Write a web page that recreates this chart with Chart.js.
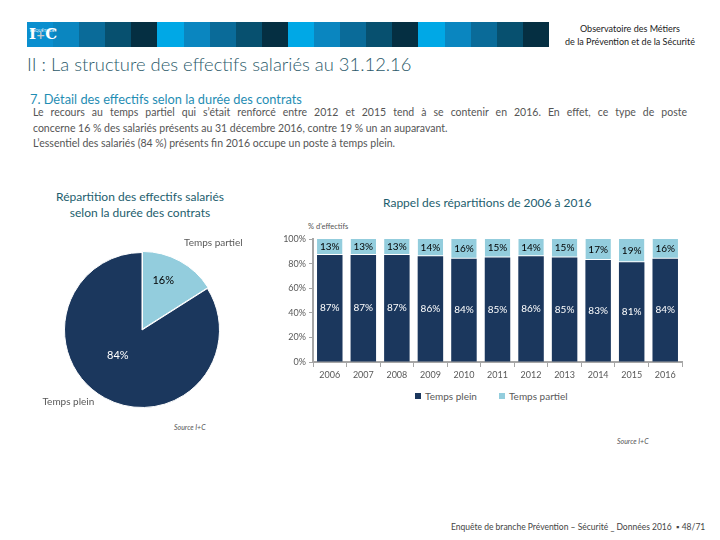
<!DOCTYPE html>
<html>
<head>
<meta charset="utf-8">
<script src="https://cdn.jsdelivr.net/npm/chart.js@4/dist/chart.umd.min.js"></script>
<style>
  html,body{margin:0;padding:0;background:#fff;}
  body{width:720px;height:540px;position:relative;overflow:hidden;font-family:Lato,"Open Sans",sans-serif;}
  .abs{position:absolute;white-space:nowrap;}
  #stripes{position:absolute;left:27px;top:22px;width:522px;height:25px;display:flex;}
  #stripes div{flex:1;height:25px;}
  #logo{position:absolute;left:29px;top:24px;color:#fff;font-family:"DejaVu Serif",serif;font-weight:bold;font-size:15px;line-height:20px;}
  #logo small{position:absolute;left:1px;top:-3px;font-size:4px;font-family:Lato,sans-serif;font-weight:normal;}
  #obs{position:absolute;left:540px;top:22px;width:180px;text-align:center;font-size:9px;line-height:13px;color:#222;}
  #title{left:27px;top:53px;font-size:18.4px;color:#2b5a6a;font-weight:300;}
  #sub{left:30px;top:91px;font-size:12.8px;color:#1f8db3;}
  #para{position:absolute;left:33px;top:105px;width:654px;font-size:10.5px;color:#555;line-height:15.5px;}
  #para .j{text-align:justify;text-align-last:justify;}
  #pieTitle{position:absolute;left:40px;top:189px;width:200px;text-align:center;font-size:12px;line-height:16px;color:#1d5e6e;}
  #barTitle{left:383px;top:195px;font-size:12px;color:#1d5e6e;}
  #yTitle{left:308px;top:222px;font-size:7.5px;color:#555;}
  #pieWrap{position:absolute;left:30px;top:225px;width:240px;height:190px;}
  #barWrap{position:absolute;left:270px;top:220px;width:440px;height:170px;}
  .src{font-size:7px;color:#555;font-style:italic;}
  #foot{left:451px;top:522px;font-size:8.5px;color:#444;}
  #legend{position:absolute;left:415px;top:390px;font-size:10px;color:#595959;display:flex;align-items:center;}
  #legend span.box{display:inline-block;width:6px;height:6px;margin-right:4px;}
</style>
</head>
<body>
<div id="stripes"></div>
<div id="logo"><small>ENQUÊTE DE BRANCHE</small>I<span style="color:#c8c8c8;font-size:11px">+</span>C</div>
<div id="obs">Observatoire des Métiers<br>de la Prévention et de la Sécurité</div>
<div id="title" class="abs">II : La structure des effectifs salariés au 31.12.16</div>
<div id="sub" class="abs">7. Détail des effectifs selon la durée des contrats</div>
<div id="para">
  <div class="j">Le recours au temps partiel qui s’était renforcé entre 2012 et 2015 tend à se contenir en 2016. En effet, ce type de poste</div>
  <div>concerne 16 % des salariés présents au 31 décembre 2016, contre 19 % un an auparavant.</div>
  <div>L’essentiel des salariés (84 %) présents fin 2016 occupe un poste à temps plein.</div>
</div>
<div id="pieTitle">Répartition des effectifs salariés<br>selon la durée des contrats</div>
<div id="barTitle" class="abs">Rappel des répartitions de 2006 à 2016</div>
<div id="yTitle" class="abs">% d'effectifs</div>
<div id="pieWrap"><canvas id="pie" width="240" height="190"></canvas></div>
<div id="barWrap"><canvas id="bar" width="440" height="170"></canvas></div>
<div id="legend"></div>
<div class="abs src" style="left:174px;top:423px;">Source I+C</div>
<div class="abs src" style="left:617px;top:437px;">Source I+C</div>
<div id="foot" class="abs">Enquête de branche Prévention – Sécurité _ Données 2016 &nbsp;▪ 48/71</div>

<script>
// ---- data ----
const pieLabels = ["Temps partiel", "Temps plein"];
const pieValues = [16, 84];

const years = ["2006","2007","2008","2009","2010","2011","2012","2013","2014","2015","2016"];
const tempsPlein   = [87, 87, 87, 86, 84, 85, 86, 85, 83, 81, 84];
const tempsPartiel = [13, 13, 13, 14, 16, 15, 14, 15, 17, 19, 16];
const yTicks = [0, 20, 40, 60, 80, 100];
const seriesNames = ["Temps plein", "Temps partiel"];

const stripeColors = ["#0a8fcf","#0a86c0","#0a6b99","#07506f","#052f42"];

// header stripes
const st = document.getElementById('stripes');
for (let g = 0; g < 4; g++) {
  stripeColors.forEach((c, i) => {
    const d = document.createElement('div');
    d.style.background = (i === 0 && g > 0) ? "#00a8e6" : c;
    st.appendChild(d);
  });
}

const NAVY = "#1b375d";
const LIGHT = "#93cddd";
const GREY = "#595959";

// ---- pie ----
const pieLabelPlugin = {
  id: 'pieLabels',
  afterDatasetsDraw(chart) {
    const ctx = chart.ctx;
    const meta = chart.getDatasetMeta(0);
    ctx.save();
    ctx.textAlign = 'center';
    ctx.textBaseline = 'middle';
    const frac = [0.4, 0.55], rad = [0.7, 0.45];
    meta.data.forEach((arc, i) => {
      const p = arc.getProps(['x','y','startAngle','endAngle','outerRadius']);
      const a = p.startAngle + (p.endAngle - p.startAngle) * frac[i];
      const x = p.x + Math.cos(a) * p.outerRadius * rad[i];
      const y = p.y + Math.sin(a) * p.outerRadius * rad[i];
      ctx.font = '11px Lato, sans-serif';
      ctx.fillStyle = i === 0 ? '#000' : '#fff';
      ctx.fillText(pieValues[i] + '%', x, y);
    });
    const a0 = meta.data[1].getProps(['x','y','outerRadius']);
    ctx.font = '10px Lato, sans-serif';
    ctx.fillStyle = GREY;
    ctx.fillText(pieLabels[0], a0.x + a0.outerRadius * 0.92, a0.y - a0.outerRadius * 1.12);
    ctx.fillText(pieLabels[1], a0.x - a0.outerRadius * 0.95, a0.y + a0.outerRadius * 0.92);
    ctx.restore();
  }
};

new Chart(document.getElementById('pie'), {
  type: 'pie',
  data: {
    labels: pieLabels,
    datasets: [{
      data: pieValues,
      backgroundColor: [LIGHT, NAVY],
      borderColor: '#fff',
      borderWidth: 1,
      offset: [4, 0]
    }]
  },
  options: {
    responsive: false,
    animation: false,
    layout: { padding: { left: 32, right: 48, top: 25, bottom: 5 } },
    plugins: { legend: { display: false }, tooltip: { enabled: false } }
  },
  plugins: [pieLabelPlugin]
});

// ---- bars ----
const barLabelPlugin = {
  id: 'barLabels',
  afterDatasetsDraw(chart) {
    const ctx = chart.ctx;
    ctx.save();
    ctx.textAlign = 'center';
    ctx.textBaseline = 'middle';
    ctx.font = '10px Lato, sans-serif';
    chart.data.datasets.forEach((ds, di) => {
      const meta = chart.getDatasetMeta(di);
      meta.data.forEach((bar, i) => {
        const p = bar.getProps(['x','y','base']);
        ctx.fillStyle = di === 0 ? '#fff' : '#000';
        ctx.fillText(ds.data[i] + '%', p.x, (p.y + p.base) / 2);
      });
    });
    ctx.restore();
  }
};

const barChart = new Chart(document.getElementById('bar'), {
  type: 'bar',
  data: {
    labels: years,
    datasets: [
      { label: seriesNames[0], data: tempsPlein, backgroundColor: NAVY, barPercentage: 0.76, categoryPercentage: 1 },
      { label: seriesNames[1], data: tempsPartiel, backgroundColor: LIGHT, borderColor: '#fff', borderWidth: {bottom: 1}, borderSkipped: false, barPercentage: 0.76, categoryPercentage: 1 }
    ]
  },
  options: {
    responsive: false,
    animation: false,
    layout: { padding: { left: 0, right: 28, top: 19, bottom: 0 } },
    scales: {
      x: {
        stacked: true,
        offset: true,
        grid: { offset: true, drawOnChartArea: false, tickLength: 5, color: '#a6a6a6', lineWidth: 1 },
        border: { color: '#a6a6a6', width: 2 },
        ticks: { color: GREY, font: { size: 9, family: 'Lato, sans-serif' }, padding: 3 },
        afterFit(s) { s.height = 28; }
      },
      y: {
        stacked: true,
        min: 0, max: 100,
        afterBuildTicks(s) { s.ticks = yTicks.map(v => ({ value: v })); },
        grid: { drawOnChartArea: false, tickLength: 4, color: '#a6a6a6' },
        border: { color: '#a6a6a6', width: 2 },
        ticks: { color: GREY, font: { size: 9, family: 'Lato, sans-serif' }, padding: 3, callback: v => v + '%' },
        afterFit(s) { s.width = 43; }
      }
    },
    plugins: {
      tooltip: { enabled: false },
      legend: { display: false }
    }
  },
  plugins: [barLabelPlugin]
});

// legend built from the chart's datasets
const lg = document.getElementById('legend');
barChart.data.datasets.forEach((ds, i) => {
  const item = document.createElement('span');
  item.style.display = 'inline-flex';
  item.style.alignItems = 'center';
  item.style.marginRight = i === 0 ? '22px' : '0';
  item.innerHTML = '<span class="box" style="background:' + ds.backgroundColor + '"></span>' + ds.label;
  lg.appendChild(item);
});
</script>
</body>
</html>
